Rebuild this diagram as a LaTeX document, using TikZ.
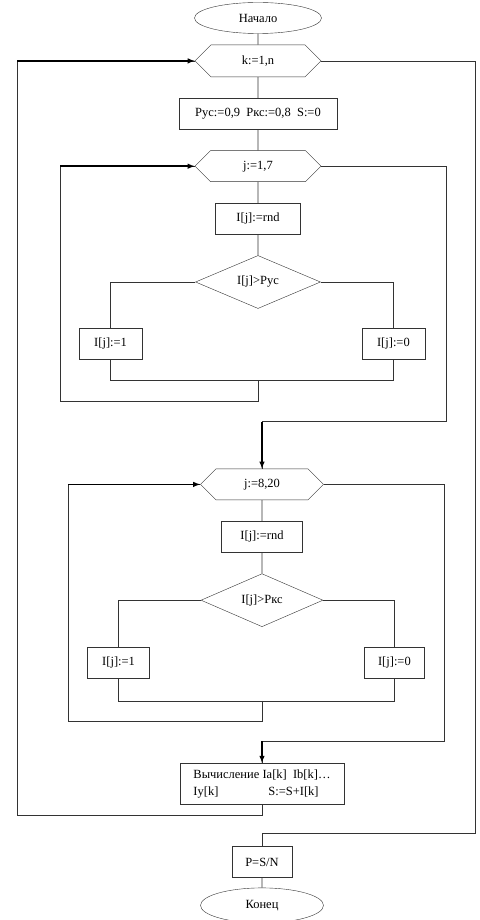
\documentclass[tikz,border=0pt]{standalone}
\usepackage{fontspec}
\setmainfont{Liberation Serif}
\usetikzlibrary{shapes.geometric,shapes.symbols,positioning}

\begin{document}
\begin{tikzpicture}[font=\fontsize{12.5}{17}\selectfont]
    \tikzstyle{term}=[ellipse, draw=black!80, inner sep=0pt]
    \tikzstyle{proc}=[rectangle, draw=black!80, inner sep=0pt, minimum height=31pt]
    \tikzstyle{cycle}=[signal, signal to=east and west, signal pointer angle=90, draw=black!80, inner sep=0pt, minimum height=31pt]
    \tikzstyle{cond}=[diamond, aspect=2, draw=black!80, inner sep=0pt, minimum width=125pt, minimum height=53pt]
    \tikzstyle{wire}=[draw=black!80, line width=0.7pt]
    \tikzstyle{connect}=[-latex, draw=black, line width=1.4pt]
    \useasboundingbox (0,0) rectangle (479pt,-920pt);
    % outer loop over k
    \node[term,minimum width=127pt,minimum height=31pt] (start) at (258pt,-18pt) {Начало};
    \node[cycle,minimum width=126pt,minimum height=32pt] (k) [below=11pt of start] {k:=1,n};
    \node[proc,minimum width=158pt] (init) [below=21pt of k] {Рус:=0,9\ \ Ркс:=0,8\ \ S:=0};
    % first inner loop
    \node[cycle,minimum width=126pt] (j1) [below=21pt of init] {j:=1,7};
    \node[proc,minimum width=85pt] (rnd1) [below=21pt of j1] {I[j]:=rnd};
    \node[cond] (d1) [below=21pt of rnd1] {I[j]>Рус};
    \node[proc,minimum width=63pt] (a1) [left=53pt of d1.west,yshift=-61.5pt] {I[j]:=1};
    \node[proc,minimum width=63pt] (b1) [right=41pt of d1.east,yshift=-61.5pt] {I[j]:=0};
    \coordinate[below=72pt of d1.south] (m1);
    % second inner loop
    \node[cycle,minimum width=123pt] (j2) [below=160pt of d1,xshift=4pt] {j:=8,20};
    \node[proc,minimum width=81pt] (rnd2) [below=21pt of j2] {I[j]:=rnd};
    \node[cond,minimum width=122pt] (d2) [below=21pt of rnd2] {I[j]>Ркс};
    \node[proc,minimum width=62pt] (a2) [left=51pt of d2.west,yshift=-62.5pt] {I[j]:=1};
    \node[proc,minimum width=60pt] (b2) [right=41pt of d2.east,yshift=-62.5pt] {I[j]:=0};
    \coordinate[below=74pt of d2.south] (m2);
    % results
    \node[proc,minimum width=164pt,minimum height=41pt,align=left] (calc) [below=136pt of d2]
        {Вычисление Ia[k]\ \ Ib[k]…\\\makebox[75pt][l]{Iy[k]}S:=S+I[k]};
    \node[proc,minimum width=60pt] (p) [below=42pt of calc] {P=S/N};
    \node[term,minimum width=123pt,minimum height=35pt] (end) [below=10pt of p] {Конец};

    \path[wire] (start) -- (k) (k) -- (init) (init) -- (j1) (j1) -- (rnd1) (rnd1) -- (d1)
        (j2) -- (rnd2) (rnd2) -- (d2) (p) -- (end);
    \path[wire] (d1.west) -| (a1.north) (d1.east) -| (b1.north)
        (a1.south) |- (m1) -| (b1.south);
    \path[wire] (d2.west) -| (a2.north) (d2.east) -| (b2.north)
        (a2.south) |- (m2) -| (b2.south);
    % loop back and exit paths
    \path[wire] (m1) -- ++(0,-21pt) -- ++(-198pt,0) coordinate (c1) |- (j1.west);
    \draw[connect] (c1 |- j1.west) -- (j1.west);
    \path[wire] (j1.east) -- ++(125pt,0) -- ++(0,-255.5pt) coordinate (c5) -| (j2.north);
    \draw[connect] (c5 -| j2.north) -- (j2.north);
    \path[wire] (m2) -- ++(0,-20pt) -- ++(-194pt,0) coordinate (c2) |- (j2.west);
    \draw[connect] (c2 |- j2.west) -- (j2.west);
    \path[wire] (j2.east) -- ++(121pt,0) -- ++(0,-257pt) coordinate (c4) -| (calc.north);
    \draw[connect] (c4 -| calc.north) -- (calc.north);
    \path[wire] (calc.south) -- ++(0,-11pt) -- ++(-245pt,0) coordinate (c3) |- (k.west);
    \draw[connect] (c3 |- k.west) -- (k.west);
    \path[wire] (k.east) -- ++(154pt,0) -- ++(0,-772pt) -| (p.north);
\end{tikzpicture}
\end{document}
